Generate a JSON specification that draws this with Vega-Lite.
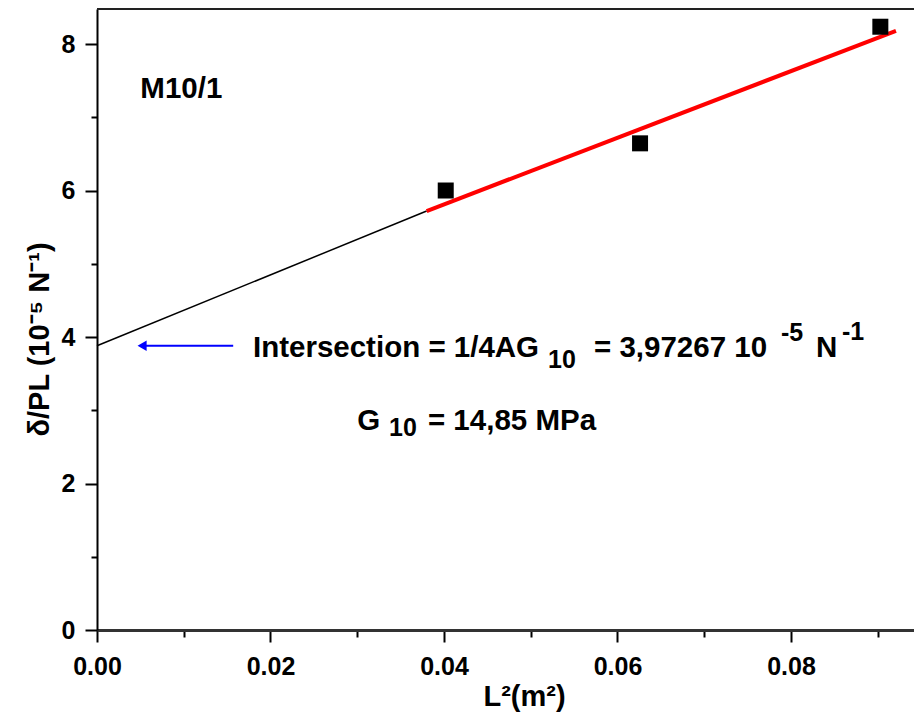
{
  "$schema": "https://vega.github.io/schema/vega-lite/v6.json",
  "width": 817,
  "height": 621,
  "autosize": {"type": "none"},
  "padding": {"left": 97, "top": 9, "right": 0, "bottom": 85},
  "background": "white",
  "config": {
    "view": {"stroke": null},
    "font": "Liberation Sans",
    "axis": {"labelFont": "Liberation Sans", "titleFont": "Liberation Sans", "grid": false}
  },
  "datasets": {
    "points": [
      {"L2": 0.0402, "v": 6.0},
      {"L2": 0.0626, "v": 6.644},
      {"L2": 0.0903, "v": 8.236}
    ],
    "lines": [
      {"seg": "extrapolation", "L2": 0.0, "v": 3.88},
      {"seg": "extrapolation", "L2": 0.038, "v": 5.72},
      {"seg": "fit", "L2": 0.038, "v": 5.72},
      {"seg": "fit", "L2": 0.0921, "v": 8.18}
    ],
    "arrow": [
      {"L2": 0.0157, "L2end": 0.0052, "v": 3.88}
    ],
    "notes": [
      {"label": "M10/1", "part": "main", "L2": 0.0050, "v": 7.39},
      {"label": "Intersection = 1/4AG", "part": "main", "L2": 0.01798, "v": 3.85},
      {"label": "10", "part": "index", "L2": 0.05199, "v": 3.686},
      {"label": "= 3,97267 10", "part": "main", "L2": 0.05729, "v": 3.85},
      {"label": "-5", "part": "index", "L2": 0.07885, "v": 4.055},
      {"label": "N", "part": "main", "L2": 0.08288, "v": 3.85},
      {"label": "-1", "part": "index", "L2": 0.08588, "v": 4.068},
      {"label": "G", "part": "main", "L2": 0.03, "v": 2.853},
      {"label": "10", "part": "index", "L2": 0.03366, "v": 2.76},
      {"label": "= 14,85 MPa", "part": "main", "L2": 0.03815, "v": 2.853}
    ]
  },
  "encoding": {
    "x": {
      "field": "L2", "type": "quantitative",
      "scale": {"domain": [0, 0.09418], "nice": false, "zero": false},
      "axis": {
        "title": "L²(m²)",
        "values": [0, 0.01, 0.02, 0.03, 0.04, 0.05, 0.06, 0.07, 0.08, 0.09],
        "labelExpr": "round(datum.value*100) % 2 == 0 ? format(datum.value, '.2f') : ''",
        "labelFontSize": 25, "labelFontWeight": "bold", "labelColor": "black",
        "labelPadding": 12, "labelFlush": false, "labelOverlap": false,
        "tickSize": {"condition": {"test": "round(datum.value*100) % 2 == 0", "value": 12}, "value": 7},
        "tickWidth": 2, "tickColor": "black",
        "domainWidth": 3, "domainColor": "#333333",
        "titleFontSize": 29, "titleFontWeight": "bold", "titleColor": "black",
        "titlePadding": 3, "titleX": 427
      }
    },
    "y": {
      "field": "v", "type": "quantitative",
      "scale": {"domain": [0, 8.478], "nice": false, "zero": false},
      "axis": {
        "title": "δ/PL (10⁻⁵ N⁻¹)",
        "values": [0, 1, 2, 3, 4, 5, 6, 7, 8],
        "labelExpr": "datum.value % 2 == 0 ? format(datum.value, 'd') : ''",
        "labelFontSize": 25, "labelFontWeight": "bold", "labelColor": "black",
        "labelPadding": 10, "labelFlush": false, "labelOverlap": false,
        "tickSize": {"condition": {"test": "datum.value % 2 == 0", "value": 12}, "value": 6},
        "tickWidth": 2, "tickColor": "black",
        "domainWidth": 2, "domainColor": "black",
        "titleFontSize": 29, "titleFontWeight": "bold", "titleColor": "black",
        "titlePadding": 7, "titleY": 330
      }
    }
  },
  "layer": [
    {
      "data": {"values": [{"top": 8.478}]},
      "mark": {"type": "rule", "color": "#222222", "strokeWidth": 2},
      "encoding": {"x": null, "y": {"field": "top", "type": "quantitative"}}
    },
    {
      "data": {"name": "lines"},
      "transform": [{"filter": "datum.seg == 'extrapolation'"}],
      "mark": {"type": "line", "color": "black", "strokeWidth": 1.5}
    },
    {
      "data": {"name": "lines"},
      "transform": [{"filter": "datum.seg == 'fit'"}],
      "mark": {"type": "line", "color": "#ff0000", "strokeWidth": 4}
    },
    {
      "data": {"name": "points"},
      "mark": {"type": "point", "shape": "square", "filled": true, "color": "black", "size": 256, "opacity": 1}
    },
    {
      "data": {"name": "arrow"},
      "mark": {"type": "rule", "color": "#0000ff", "strokeWidth": 2},
      "encoding": {"x2": {"field": "L2end"}}
    },
    {
      "data": {"name": "arrow"},
      "mark": {"type": "point", "shape": "triangle-left", "filled": true, "color": "#0000ff", "size": 110, "opacity": 1},
      "encoding": {"x": {"field": "L2end", "type": "quantitative"}}
    },
    {
      "data": {"name": "notes"},
      "mark": {"type": "text", "align": "left", "baseline": "middle", "fontWeight": "bold", "color": "black", "font": "Liberation Sans"},
      "encoding": {
        "text": {"field": "label", "type": "nominal"},
        "size": {"field": "part", "type": "nominal", "scale": {"domain": ["main", "index"], "range": [29.5, 25]}, "legend": null}
      }
    }
  ]
}
